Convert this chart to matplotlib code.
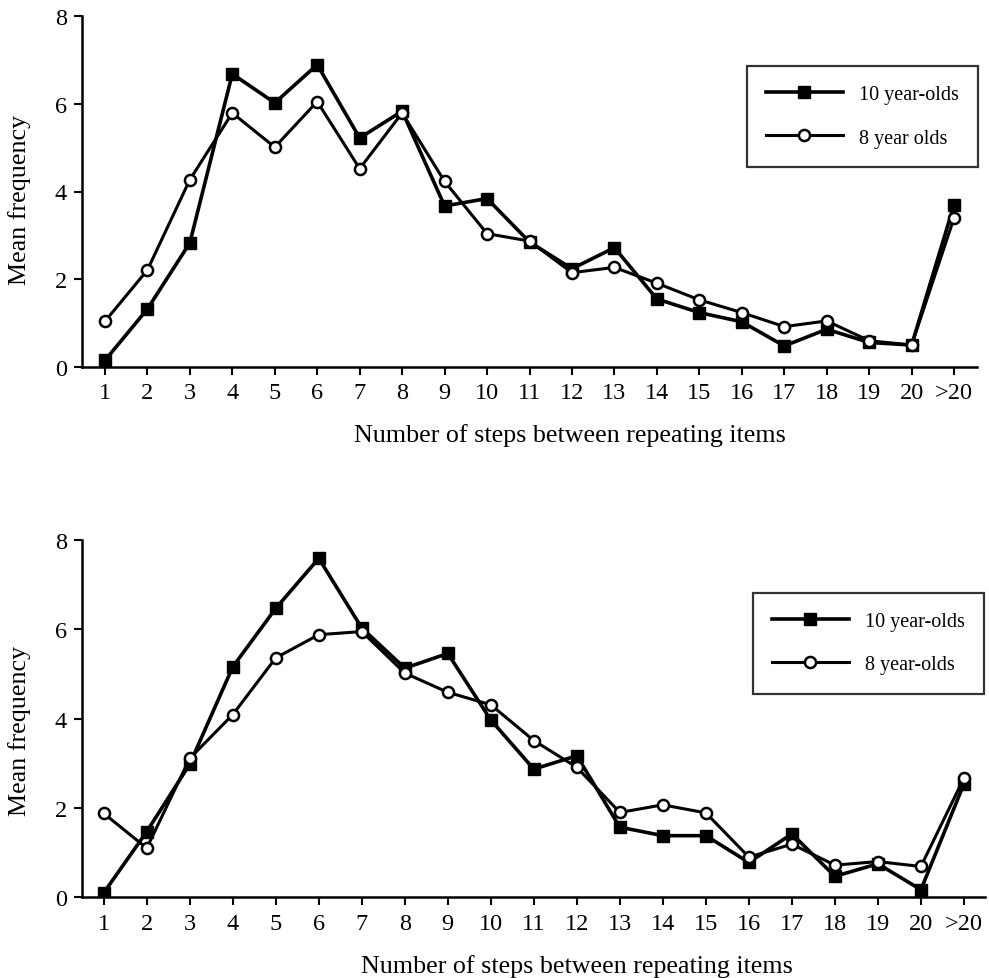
import matplotlib
matplotlib.use("Agg")
import matplotlib.pyplot as plt

plt.rcParams['font.family'] = ['Liberation Serif', 'DejaVu Serif']

steps = [str(i) for i in range(1, 21)] + ['>20']

# top panel
top_10 = [0.15, 1.32, 2.83, 6.68, 6.02, 6.89, 5.22, 5.83, 3.67, 3.84, 2.85,
          2.24, 2.72, 1.55, 1.24, 1.03, 0.48, 0.86, 0.56, 0.50, 3.70]
top_8 = [1.04, 2.21, 4.27, 5.79, 5.01, 6.05, 4.52, 5.79, 4.23, 3.04, 2.87,
         2.15, 2.27, 1.91, 1.53, 1.24, 0.92, 1.05, 0.60, 0.50, 3.40]
top_names = ['10 year-olds', '8 year olds']

# bottom panel
bot_10 = [0.10, 1.47, 2.98, 5.16, 6.47, 7.59, 6.03, 5.13, 5.46, 3.97, 2.87,
          3.17, 1.57, 1.38, 1.38, 0.78, 1.42, 0.47, 0.75, 0.17, 2.54]
bot_8 = [1.88, 1.10, 3.11, 4.09, 5.36, 5.88, 5.95, 5.02, 4.59, 4.31, 3.51,
         2.91, 1.90, 2.07, 1.89, 0.90, 1.19, 0.72, 0.80, 0.69, 2.67]
bot_names = ['10 year-olds', '8 year-olds']

W, H = 989, 979
fig = plt.figure(figsize=(W / 100, H / 100), dpi=100)


def panel(rect, y10, y8, names, xlim, leg_xy, lpad, xl_x, yl_y):
    ax = fig.add_axes(rect)
    x = list(range(1, len(steps) + 1))
    ax.plot(x, y10, color='black', lw=2.6, marker='s', ms=8.5,
            mfc='black', mec='black', label=names[0], zorder=3)
    ax.plot(x, y8, color='black', lw=2.2, marker='o', ms=8,
            mfc='white', mec='black', mew=1.8, label=names[1], zorder=4)
    ax.set_xlim(*xlim)
    ax.set_ylim(0, 8)
    ax.set_yticks([0, 2, 4, 6, 8])
    ax.set_xticks(x)
    ax.set_xticklabels(steps)
    for s in ['top', 'right']:
        ax.spines[s].set_visible(False)
    for s in ['left', 'bottom']:
        ax.spines[s].set_linewidth(1.8)
    ax.tick_params(direction='out', length=6, width=1.5, labelsize=17.5)
    ax.tick_params(axis='x', pad=5)
    ax.tick_params(axis='y', pad=5)
    # the labels sit a little off-centre in the original
    ax.set_xlabel('Number of steps between repeating items', fontsize=18.7,
                  labelpad=lpad, x=xl_x)
    ax.set_ylabel('Mean frequency', fontsize=18.7, labelpad=17, y=yl_y)
    leg = ax.legend(loc='upper left', bbox_to_anchor=leg_xy, fontsize=14.5,
                    frameon=True, fancybox=False, handlelength=3.8,
                    handletextpad=0.8, borderpad=0.95, labelspacing=1.2,
                    borderaxespad=0)
    leg.get_frame().set_edgecolor('black')
    leg.get_frame().set_linewidth(1.6)
    return ax


panel([82 / W, 1 - 368 / H, 895 / W, 351 / H], top_10, top_8, top_names,
      (0.46, 21.54), (0.743, 0.8575), 14, 0.545, 0.479)
panel([82 / W, 1 - 898.3 / H, 903 / W, 357.3 / H], bot_10, bot_8, bot_names,
      (0.495, 21.49), (0.743, 0.852), 14.5, 0.548, 0.468)

fig.savefig('out.png', dpi=100)
